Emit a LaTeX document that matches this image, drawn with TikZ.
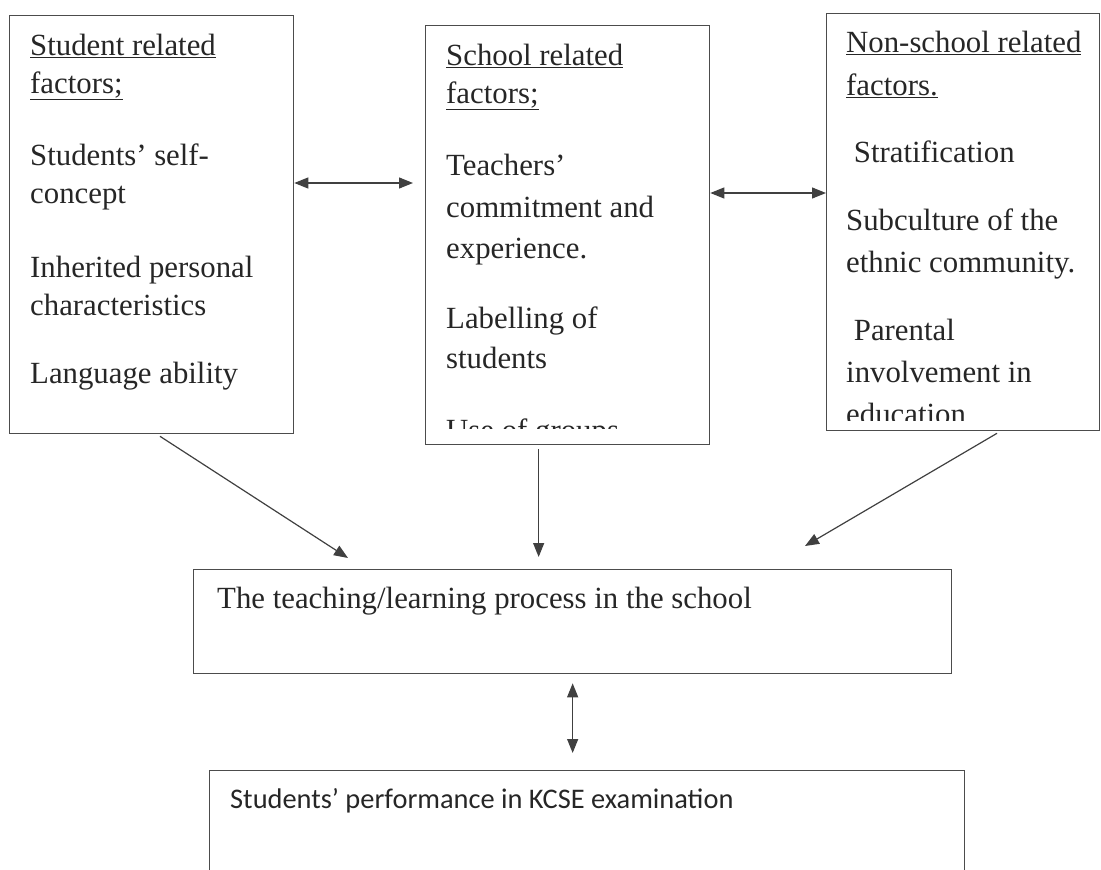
\documentclass[tikz,border=0pt]{standalone}
\usepackage{fontspec}
\setmainfont{Liberation Serif}
\newfontfamily\calibrifont{Carlito}
\usetikzlibrary{arrows.meta}

\begin{document}
\begin{tikzpicture}[
    x=1pt, y=-1pt,
    factor box/.style={draw=black!70, line width=1.3pt, anchor=north west, inner sep=0pt},
    item/.style={anchor=base west, inner sep=0pt, text=black!85, font=\fontsize{30.8}{38}\selectfont},
    link/.style={draw=black!75, line width=1.2pt, -{Triangle[length=14pt, width=11pt]}},
    both link/.style={draw=black!75, line width=1.2pt, {Triangle[length=14pt, width=11pt]}-{Triangle[length=14pt, width=11pt]}}
]
\path[use as bounding box] (0,0) rectangle (1101,870);
\clip (0,0) rectangle (1101,870);

% Factor boxes
\node[factor box, minimum width=284pt, minimum height=418pt] (student) at (9,15) {};
\node[factor box, minimum width=284pt, minimum height=419pt] (school) at (425,25) {};
\node[factor box, minimum width=273pt, minimum height=417pt] (society) at (826,13) {};

% Process and outcome
\node[factor box, minimum width=758pt, minimum height=104pt] (process) at (193,569) {};
\node[factor box, minimum width=755pt, minimum height=140pt] (result) at (209,770) {};

% Box texts
\foreach \yy/\txt in {55/\underline{Student related}, 93/\underline{factors;},
    165/Students’ self-, 203/concept, 277/Inherited personal,
    315/characteristics, 383/Language ability} {
    \node[item] (stu-\yy) at (30,\yy) {\txt};
}
\begin{scope}
    \clip (425,25) rectangle (709,428);
    \foreach \yy/\txt in {65/\underline{School related}, 103/\underline{factors;},
        175/Teachers’, 217/commitment and, 258/experience.,
        328/Labelling of, 368/students, 440/Use of groups} {
        \node[item] (sch-\yy) at (446,\yy) {\txt};
    }
\end{scope}
\begin{scope}
    \clip (826,13) rectangle (1099,420);
    \foreach \yy/\txt in {52/\underline{Non-school related}, 95/\underline{factors.},
        162/\ Stratification, 230/Subculture of the, 272/ethnic community.,
        340/\ Parental, 382/involvement in, 424/education} {
        \node[item] (soc-\yy) at (846,\yy) {\txt};
    }
\end{scope}
\node[item] (process-text) at (217,608) {The teaching/learning process in the school};
\node[item, font=\calibrifont\fontsize{28.4}{34}\selectfont] (result-text) at (230,808)
    {Students’ performance in KCSE examination};

% Links between factors
\coordinate (level1) at (0,183);
\coordinate (level2) at (0,193);
\draw[both link, shorten >=12pt] (student.east |- level1) -- (school.west |- level1);
\draw[both link] (school.east |- level2) -- (society.west |- level2);

% Links into the process
\draw[link] ([xshift=151pt, yshift=-2pt]student.south west) -- ([xshift=155pt, yshift=11pt]process.north west);
\draw[link, shorten <=4pt, shorten >=12pt] ([xshift=-29pt]school.south) -- ([xshift=-29pt]school.south |- process.north);
\draw[link] ([xshift=171pt, yshift=-2pt]society.south west) -- ([xshift=612pt, yshift=23pt]process.north west);

% Process and performance
\draw[both link, shorten <=9pt, shorten >=17pt] (process.south) -- (process.south |- result.north);
\end{tikzpicture}
\end{document}
